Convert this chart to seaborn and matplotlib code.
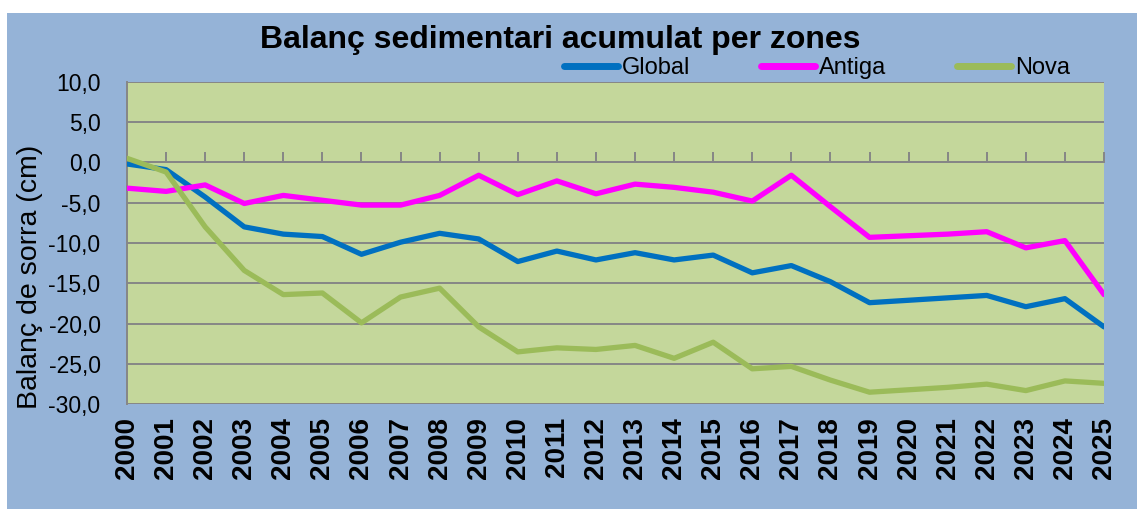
import matplotlib
matplotlib.use("Agg")
import matplotlib.pyplot as plt
from matplotlib.patches import Rectangle
import seaborn as sns
import pandas as pd
import numpy as np

# data (cm)
years = list(range(2000, 2026))
global_vals = [-0.2, -0.9, -4.3, -8.0, -8.9, -9.2, -11.4, -9.9, -8.8, -9.5,
               -12.3, -11.0, -12.1, -11.2, -12.1, -11.5, -13.7, -12.8, -14.8, -17.4,
               -17.1, -16.8, -16.5, -17.9, -16.9, -20.4]
antiga_vals = [-3.2, -3.6, -2.8, -5.1, -4.1, -4.7, -5.3, -5.3, -4.1, -1.6,
               -4.0, -2.3, -3.9, -2.7, -3.1, -3.7, -4.8, -1.6, -5.5, -9.3,
               -9.1, -8.9, -8.6, -10.6, -9.7, -16.4]
nova_vals = [0.5, -1.2, -8.0, -13.4, -16.4, -16.2, -19.9, -16.7, -15.6, -20.4,
             -23.5, -23.0, -23.2, -22.7, -24.3, -22.3, -25.6, -25.3, -27.0, -28.5,
             -28.2, -27.9, -27.5, -28.3, -27.1, -27.4]
zones = ["Global", "Antiga", "Nova"]
colors = {"Global": "#0070C0", "Antiga": "#FF00FF", "Nova": "#9BBB59"}

df = pd.DataFrame({"any": years * 3,
                   "balanc": global_vals + antiga_vals + nova_vals,
                   "zona": np.repeat(zones, len(years))})

sns.set_style("white")
plt.rcParams["font.family"] = ["Liberation Sans", "DejaVu Sans"]
plt.rcParams["text.color"] = "black"

fig = plt.figure(figsize=(11.37, 5.09), dpi=100, facecolor="white")
# blue chart area (Excel style), leaving a thin white margin top/left
fig.add_artist(Rectangle((7 / 1137, 0), 1, 1 - 13 / 509, transform=fig.transFigure,
                         facecolor="#95B3D7", edgecolor="none", zorder=-10))

ax = fig.add_axes([127 / 1137, 1 - 404.3 / 509, (1104 - 127) / 1137, (404.3 - 81.7) / 509])
ax.set_facecolor("#C4D79B")

sns.lineplot(data=df, x="any", y="balanc", hue="zona", palette=colors,
             linewidth=3.8, ax=ax, legend=False, zorder=3)

ymin, ymax = -30, 10
ax.set_xlim(years[0], years[-1])
ax.set_ylim(ymin, ymax)
ax.set_yticks(np.arange(ymin, ymax + 1, 5))
ax.set_yticklabels([f"{v:.1f}".replace(".", ",") for v in np.arange(ymin, ymax + 1, 5)])
ax.set_xticks(years)
ax.set_xticklabels([str(y) for y in years], rotation=90, fontweight="bold", fontsize=20)

ax.grid(axis="y", color="#868686", linewidth=1.4, zorder=1)
ax.grid(axis="x", visible=False)
ax.set_axisbelow(True)
for s in ["top", "right", "bottom"]:
    ax.spines[s].set_visible(False)
ax.spines["left"].set_color("#868686")
ax.spines["left"].set_linewidth(1.4)
ax.tick_params(axis="y", direction="out", length=7, width=1.4, color="#868686",
               pad=12, labelsize=16.5, labelcolor="black")
ax.tick_params(axis="x", length=0, pad=9, labelcolor="black")
ax.set_xlabel("")
ax.set_ylabel("")

# horizontal axis line crossing at zero with downward ticks
zero_frac = (0 - ymin) / (ymax - ymin)
sec = ax.secondary_xaxis(zero_frac)
sec.set_xticks(years[1:])
sec.tick_params(axis="x", direction="out", length=7, width=1.4, color="#868686",
                labelbottom=False, labeltop=False)
for s in sec.spines.values():
    s.set_color("#868686")
    s.set_linewidth(1.4)

fig.text(30 / 1137, 1 - 277 / 509, "Balanç de sorra (cm)", rotation=90,
         ha="center", va="center", fontsize=20.5, color="black")
fig.text(560 / 1137, 1 - 40 / 509, "Balanç sedimentari acumulat per zones",
         ha="center", va="center", fontsize=23, fontweight="bold", color="black")

handles = [plt.Line2D([], [], color=colors[z], linewidth=5) for z in zones]
leg = fig.legend(handles, zones, loc="center", bbox_to_anchor=(817 / 1137, 1 - 68 / 509),
                 ncol=3, frameon=False, fontsize=17, handlelength=2.3, handletextpad=0.15,
                 columnspacing=3.0, borderpad=0, borderaxespad=0)
for t in leg.get_texts():
    t.set_color("black")

fig.savefig("out.png", dpi=100, facecolor=fig.get_facecolor())
